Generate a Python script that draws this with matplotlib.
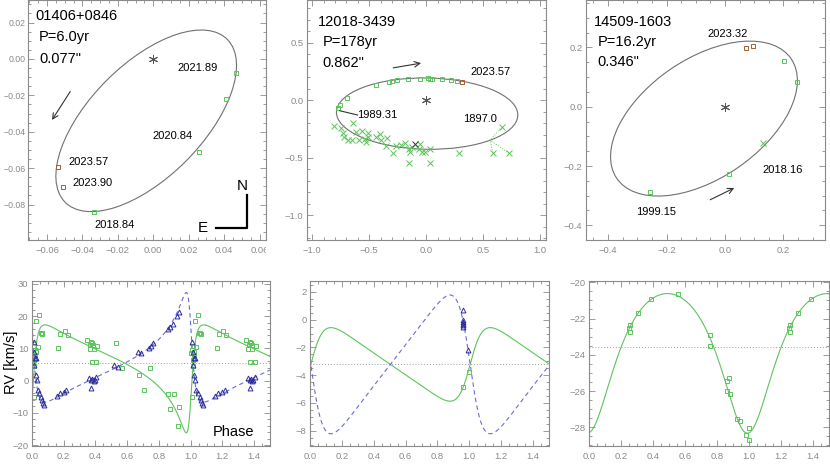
import numpy as np
import matplotlib
matplotlib.use('Agg')
import matplotlib.pyplot as plt
from matplotlib.patches import Ellipse, Rectangle
from matplotlib.ticker import MultipleLocator

plt.rcParams['font.family'] = ['Liberation Sans', 'DejaVu Sans']

# ---------------- data ----------------
names = ['01406+0846', '12018-3439', '14509-1603']
periods = ['P=6.0yr', 'P=178yr', 'P=16.2yr']
semiaxes = ['0.077"', '0.862"', '0.346"']

# visual orbit 1: 01406+0846 (arcsec)
o1_green_x = [0.0466, 0.0409, 0.0256, -0.0334]
o1_green_y = [-0.0075, -0.0221, -0.0510, -0.0840]
o1_brown_x = [-0.0538, -0.0512]
o1_brown_y = [-0.0593, -0.0704]
o1_ellipse = (-0.004, -0.034, 0.128, 0.063, 44.0)   # x0, y0, width, height, angle
o1_labels = ['2021.89', '2020.84', '2023.57', '2023.90', '2018.84']
o1_lab_x = [0.0139, -0.0003, -0.0480, -0.0454, -0.0334]
o1_lab_y = [-0.0049, -0.0423, -0.0564, -0.0681, -0.0911]

# visual orbit 2: 12018-3439
o2_green_x = [-0.775, -0.758, -0.693, -0.436, -0.328, -0.296, -0.254, -0.158,
              -0.056, 0.014, 0.032, 0.053, 0.140, 0.213, 0.266]
o2_green_y = [-0.067, -0.043, 0.020, 0.133, 0.159, 0.165, 0.171, 0.183,
              0.186, 0.191, 0.186, 0.186, 0.183, 0.174, 0.168]
o2_brown_x = [0.316]
o2_brown_y = [0.159]
o2_cross_x = [-0.806, -0.747, -0.732, -0.724, -0.689, -0.654, -0.645, -0.616,
              -0.587, -0.564, -0.538, -0.526, -0.509, -0.509, -0.442, -0.404,
              -0.392, -0.346, -0.352, -0.294, -0.268, -0.224, -0.189, -0.152,
              -0.143, -0.152, -0.122, -0.065, -0.056, -0.035, -0.015, 0.037,
              0.037, 0.284]
o2_cross_y = [-0.226, -0.246, -0.284, -0.319, -0.348, -0.348, -0.203, -0.275,
              -0.348, -0.270, -0.342, -0.362, -0.325, -0.284, -0.319, -0.299,
              -0.348, -0.333, -0.397, -0.464, -0.400, -0.391, -0.377, -0.426,
              -0.449, -0.545, -0.406, -0.429, -0.386, -0.449, -0.449, -0.545,
              -0.429, -0.464]
o2_black_x = [-0.102]
o2_black_y = [-0.383]
o2_out_x = [0.584, 0.663, 0.729]
o2_out_y = [-0.458, -0.232, -0.464]
o2_fit_x = [0.561, 0.561, 0.561]
o2_fit_y = [-0.350, -0.350, -0.350]
o2_ellipse = (0.008, -0.118, 1.59, 0.62, -1.0)
o2_labels = ['2023.57', '1989.31', '1897.0']
o2_lab_x = [0.386, -0.602, 0.319]
o2_lab_y = [0.241, -0.130, -0.165]

# visual orbit 3: 14509-1603
o3_green_x = [0.202, 0.245, 0.0126, -0.255]
o3_green_y = [0.155, 0.082, -0.228, -0.289]
o3_brown_x = [0.072, 0.096]
o3_brown_y = [0.199, 0.206]
o3_cross_x = [0.131]
o3_cross_y = [-0.124]
o3_ellipse = (-0.072, -0.040, 0.72, 0.404, 33.8)
o3_labels = ['2023.32', '2018.16', '1999.15']
o3_lab_x = [-0.061, 0.128, -0.304]
o3_lab_y = [0.244, -0.213, -0.354]

# RV 1: 01406+0846
rv1_p1_phase = [0.004, 0.008, 0.013, 0.013, 0.014, 0.010, 0.020, 0.024, 0.025,
                0.035, 0.045, 0.055, 0.061, 0.065, 0.167, 0.178, 0.205, 0.224,
                0.347, 0.372, 0.379, 0.368, 0.385, 0.364, 0.389, 0.411, 0.375,
                0.406, 0.527, 0.569, 0.677, 0.707, 0.743, 0.855, 0.893, 0.872,
                0.929, 0.919]
rv1_p1_rv = [8.5, 9.5, 10.6, 6.4, 4.6, -5.0, 8.0, 9.0, 18.6,
             10.4, 20.4, 14.7, 14.9, 14.4, 10.2, 14.4, 15.4, 14.0,
             12.6, 12.1, 11.6, 11.1, 11.1, 9.8, 9.8, 10.6, 5.9,
             5.9, 11.8, 3.8, 1.8, -2.9, 3.9, -4.1, -4.1, -8.9,
             -8.1, -14.1]
rv1_p2_phase = [0.010, 0.014, 0.020, 0.028, 0.014, 0.024, 0.029, 0.035, 0.046,
                0.056, 0.063, 0.070, 0.077, 0.155, 0.175, 0.200, 0.215, 0.360,
                0.372, 0.380, 0.388, 0.395, 0.405, 0.372, 0.516, 0.542, 0.665,
                0.686, 0.739, 0.749, 0.760, 0.855, 0.872, 0.887, 0.914, 0.929]
rv1_p2_rv = [12.1, 9.0, 7.0, 7.0, 4.9, 1.8, 0.2, -2.9, -3.9,
             -5.0, -6.0, -7.0, -7.5, -4.8, -4.0, -3.4, -2.8, 0.8,
             0.2, 0.5, -0.1, 0.3, 1.0, -2.4, 4.9, 4.2, 9.0,
             8.5, 10.1, 10.8, 11.8, 16.0, 16.6, 17.5, 20.1, 21.4]
# orbital elements: T0 (phase), e, omega (deg), K1, K2, gamma
rv1_elem = (0.0, 0.70, 245.5, 16.75, 17.0, 5.4)

# RV 2: 12018-3439
rv2_p1_phase = [0.962, 0.998]
rv2_p1_rv = [-4.86, -3.78]
rv2_p2_phase = [0.958, 0.958, 0.960, 0.961, 0.958, 0.962, 0.994]
rv2_p2_rv = [0.72, -0.05, -0.17, -0.29, -0.41, -0.53, -2.16]
rv2_elem = (0.005, 0.40, 270.0, 2.65, 5.0, -3.22)

# RV 3: 14509-1603 (single-lined)
rv3_p1_phase = [0.256, 0.252, 0.258, 0.309, 0.386, 0.554, 0.755, 0.758, 0.875,
                0.862, 0.865, 0.883, 0.928, 0.942, 0.982, 0.997, 0.999]
rv3_p1_rv = [-22.33, -22.52, -22.74, -21.69, -20.93, -20.66, -22.92, -23.51,
             -25.28, -25.46, -26.02, -26.14, -27.56, -27.67, -28.41, -28.01,
             -28.68]
rv3_elem = (0.99, 0.24, 180.0, 3.85, None, -23.55)

# ---------------- styling ----------------
GREEN = '#5cc45c'
BROWN = '#a0603a'
BLUE = '#2c2c9c'
BLUE_LINE = '#6b6bde'
GRAY = '#8a8a8a'
W, H = 830, 466


def px_axes(fig, l, t, r, b):
    return fig.add_axes([l / W, 1 - b / H, (r - l) / W, (b - t) / H])


def style(ax, xmaj, xmin, ymaj, ymin):
    ax.xaxis.set_major_locator(MultipleLocator(xmaj))
    ax.xaxis.set_minor_locator(MultipleLocator(xmin))
    ax.yaxis.set_major_locator(MultipleLocator(ymaj))
    ax.yaxis.set_minor_locator(MultipleLocator(ymin))
    ax.tick_params(which='both', direction='in', top=True, right=True,
                   color=GRAY, labelcolor=GRAY, labelsize=6.8, width=0.6)
    ax.tick_params(which='major', length=4)
    ax.tick_params(axis='x', which='major', pad=4)
    ax.tick_params(axis='y', which='major', pad=2.5)
    ax.tick_params(which='minor', length=2)
    for s in ax.spines.values():
        s.set_color(GRAY)
        s.set_linewidth(0.8)


def rv_model(phase, t0, e, w_deg, k, gamma):
    m = 2 * np.pi * (phase - t0)
    E = m.copy()
    for _ in range(300):
        E = m + e * np.sin(E)
    nu = 2 * np.arctan(np.sqrt((1 + e) / (1 - e)) * np.tan(E / 2))
    w = np.radians(w_deg)
    return gamma + k * (np.cos(nu + w) + e * np.cos(w))


def sq(ax, x, y, color):
    ax.plot(x, y, 's', ms=3.5, mfc='none', mec=color, mew=0.7)


def titles(ax, i, y0, dy, x0, dx):
    ax.text(x0, y0, names[i], transform=ax.transAxes, fontsize=10.5, va='center')
    ax.text(x0 + dx, y0 - dy, periods[i], transform=ax.transAxes, fontsize=10.5, va='center')
    ax.text(x0 + dx, y0 - 2 * dy, semiaxes[i], transform=ax.transAxes, fontsize=10.5, va='center')


def orbit(ax, ell):
    x0, y0, wd, ht, ang = ell
    ax.add_patch(Ellipse((x0, y0), wd, ht, angle=ang, fill=False,
                         ec='#707070', lw=0.8))
    ax.plot([0], [0], marker=(6, 2, 0), ms=6.5, color='#555555', mew=0.7)


def epochs(ax, labels, xs, ys):
    for t, x, y in zip(labels, xs, ys):
        ax.text(x, y, t, fontsize=8, ha='left', va='center')


def clip_xlabels(ax):
    rect = Rectangle((-0.2, -0.5), 1.2, 0.6, transform=ax.transAxes)
    for lab in ax.get_xticklabels():
        lab.set_clip_path(rect)
        lab.set_clip_on(True)


fig = plt.figure(figsize=(W / 100, H / 100), dpi=100)

# ---- top left
ax1 = px_axes(fig, 28, 0, 266, 240)
orbit(ax1, o1_ellipse)
sq(ax1, o1_green_x, o1_green_y, GREEN)
sq(ax1, o1_brown_x, o1_brown_y, BROWN)
epochs(ax1, o1_labels, o1_lab_x, o1_lab_y)
ax1.annotate('', xy=(-0.058, -0.0348), xytext=(-0.046, -0.0166),
             arrowprops=dict(arrowstyle='->', color='#333333', lw=0.8))
ax1.plot([0.919, 0.919, 0.79], [0.1875, 0.049, 0.049], color='black', lw=1.6,
         transform=ax1.transAxes)
ax1.text(0.902, 0.226, 'N', transform=ax1.transAxes, fontsize=11, ha='center', va='center')
ax1.text(0.735, 0.05, 'E', transform=ax1.transAxes, fontsize=11, ha='center', va='center')
titles(ax1, 0, 0.935, 0.09, 0.029, 0.017)
ax1.set_xlim(-0.0707, 0.0636)
ax1.set_ylim(-0.0995, 0.0324)
style(ax1, 0.02, 0.005, 0.02, 0.005)
ax1.tick_params(axis='y', which='major', labelsize=6.3, pad=1.5)

# ---- top middle
ax2 = px_axes(fig, 307, 0, 546, 240)
for xo, yo, xf, yf in zip(o2_out_x, o2_out_y, o2_fit_x, o2_fit_y):
    ax2.plot([xo, xf], [yo, yf], ':', color=GREEN, lw=0.7)
orbit(ax2, o2_ellipse)
sq(ax2, o2_green_x, o2_green_y, GREEN)
sq(ax2, o2_brown_x, o2_brown_y, BROWN)
ax2.plot(o2_cross_x + o2_out_x, o2_cross_y + o2_out_y, 'x', ms=3.8, color=GREEN, mew=0.7)
ax2.plot(o2_black_x, o2_black_y, 'x', ms=3.8, color='#333333', mew=0.7)
epochs(ax2, o2_labels, o2_lab_x, o2_lab_y)
ax2.plot([o2_green_x[1], o2_lab_x[1]], [o2_green_y[1] - 0.05, o2_lab_y[1]],
         color='#333333', lw=0.8)
ax2.annotate('', xy=(-0.021, 0.325), xytext=(-0.313, 0.276),
             arrowprops=dict(arrowstyle='->', color='#333333', lw=0.8))
titles(ax2, 1, 0.91, 0.087, 0.047, 0.019)
ax2.set_xlim(-1.045, 1.05)
ax2.set_ylim(-1.217, 0.87)
style(ax2, 0.5, 0.1, 0.5, 0.1)

# ---- top right
ax3 = px_axes(fig, 586, 0, 825, 240)
orbit(ax3, o3_ellipse)
sq(ax3, o3_green_x, o3_green_y, GREEN)
sq(ax3, o3_brown_x, o3_brown_y, BROWN)
ax3.plot(o3_cross_x, o3_cross_y, 'x', ms=3.8, color=GREEN, mew=0.7)
epochs(ax3, o3_labels, o3_lab_x, o3_lab_y)
ax3.annotate('', xy=(0.040, -0.270), xytext=(-0.059, -0.318),
             arrowprops=dict(arrowstyle='->', color='#333333', lw=0.8))
titles(ax3, 2, 0.91, 0.085, 0.031, 0.018)
ax3.set_xlim(-0.4755, 0.342)
ax3.set_ylim(-0.4496, 0.36)
style(ax3, 0.2, 0.05, 0.2, 0.05)

# ---- RV panels
ph = np.linspace(0, 1.5, 1500)


def rv_panel(ax, elem, p1_ph, p1_rv, p2_ph=None, p2_rv=None):
    t0, e, w, k1, k2, gam = elem
    ax.axhline(gam, color='#9a9a9a', ls=(0, (1, 2)), lw=0.7)
    ax.plot(ph, rv_model(ph, t0, e, w, k1, gam), color=GREEN, lw=0.8)
    if k2 is not None:
        ax.plot(ph, rv_model(ph, t0, e, w + 180.0, k2, gam), color=BLUE_LINE,
                lw=0.8, dashes=(4, 3))
    p1 = np.array(p1_ph)
    sq(ax, np.concatenate([p1, p1 + 1]), list(p1_rv) * 2, GREEN)
    if p2_ph is not None:
        p2 = np.array(p2_ph)
        ax.plot(np.concatenate([p2, p2 + 1]), list(p2_rv) * 2, '^', ms=3.5,
                mfc='none', mec=BLUE, mew=0.7)
    ax.set_xlim(0, 1.5)


ax4 = px_axes(fig, 32, 281, 270, 446)
rv_panel(ax4, rv1_elem, rv1_p1_phase, rv1_p1_rv, rv1_p2_phase, rv1_p2_rv)
ax4.set_ylim(-20.3, 30.9)
style(ax4, 0.2, 0.05, 10, 2)
ax4.text(0.76, 0.087, 'Phase', transform=ax4.transAxes, fontsize=10.5, va='center')

ax5 = px_axes(fig, 310, 281, 549, 446)
rv_panel(ax5, rv2_elem, rv2_p1_phase, rv2_p1_rv, rv2_p2_phase, rv2_p2_rv)
ax5.set_ylim(-9.1, 2.79)
style(ax5, 0.2, 0.05, 2, 0.5)

ax6 = px_axes(fig, 589, 281, 829, 446)
rv_panel(ax6, rv3_elem, rv3_p1_phase, rv3_p1_rv)
ax6.set_ylim(-29.03, -19.93)
style(ax6, 0.2, 0.05, 2, 0.5)

fig.text(11 / W, 1 - 362 / H, 'RV [km/s]', rotation=90, fontsize=10.5,
         ha='center', va='center')

fig.canvas.draw()
clip_xlabels(ax1)
clip_xlabels(ax2)

fig.savefig('out.png', dpi=100)
